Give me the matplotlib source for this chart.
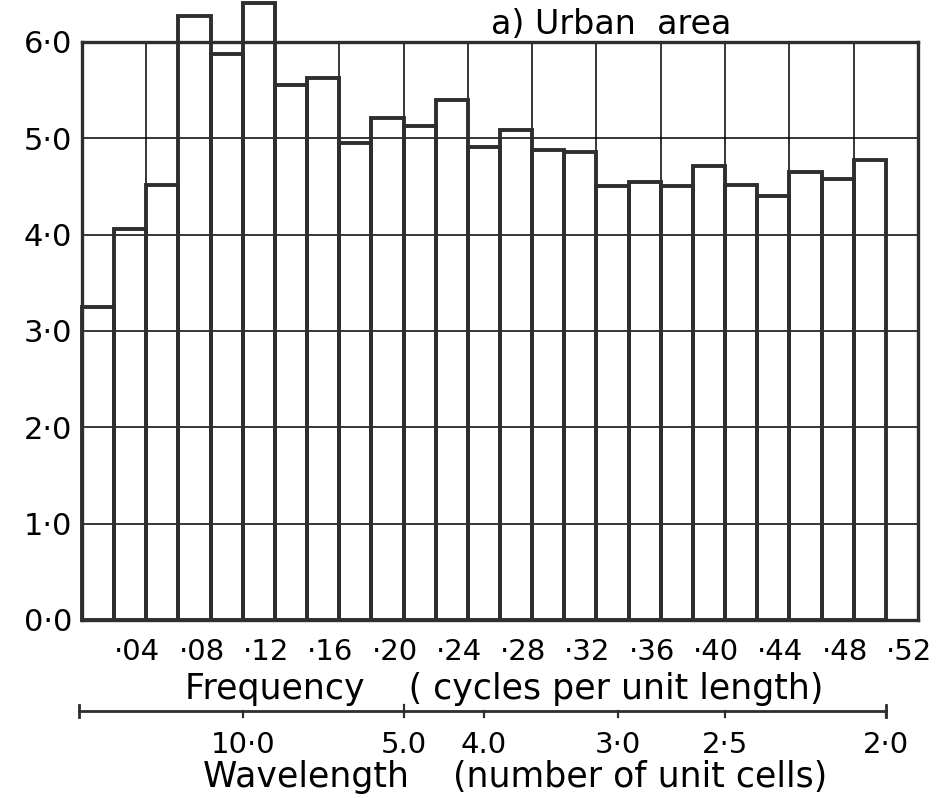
import matplotlib

matplotlib.use("Agg")
import matplotlib.pyplot as plt  # noqa: E402
from matplotlib.transforms import ScaledTranslation, blended_transform_factory  # noqa: E402

# power in each frequency band (band width 0.02 cycles per unit length)
band_start = [0.00, 0.02, 0.04, 0.06, 0.08, 0.10, 0.12, 0.14, 0.16, 0.18,
              0.20, 0.22, 0.24, 0.26, 0.28, 0.30, 0.32, 0.34, 0.36, 0.38,
              0.40, 0.42, 0.44, 0.46, 0.48]
band_power = [3.25, 4.06, 4.52, 6.27, 5.88, 6.40, 5.55, 5.63, 4.95, 5.21,
              5.13, 5.40, 4.91, 5.09, 4.88, 4.86, 4.50, 4.55, 4.51, 4.71,
              4.52, 4.40, 4.65, 4.58, 4.77]
band_width = 0.02

freq_ticks = [0.04, 0.08, 0.12, 0.16, 0.20, 0.24, 0.28, 0.32, 0.36, 0.40,
              0.44, 0.48, 0.52]
freq_labels = ["·04", "·08", "·12", "·16", "·20", "·24", "·28", "·32", "·36",
               "·40", "·44", "·48", "·52"]
power_ticks = [0, 1, 2, 3, 4, 5, 6]
power_labels = ["0·0", "1·0", "2·0", "3·0", "4·0", "5·0", "6·0"]

wavelengths = [10.0, 5.0, 4.0, 3.0, 2.5, 2.0]
wavelength_labels = ["10·0", "5.0", "4.0", "3·0", "2·5", "2·0"]

ink = "#2e2e2e"
plt.rcParams["font.family"] = ["DejaVu Sans"]

fig = plt.figure(figsize=(9.38, 7.98), dpi=100)
ax = fig.add_axes([0.0874, 0.2231, 0.8913, 0.7243])
ax.set_xlim(0, 0.52)
ax.set_ylim(0, 6)

# thin grid: one cell per 0.04 in frequency and 1.0 in power
for f in freq_ticks[:-1]:
    ax.axvline(f, color="black", lw=1.1, zorder=1)
for p in power_ticks[1:-1]:
    ax.axhline(p, color="black", lw=1.1, zorder=1)

ax.bar(band_start, band_power, width=band_width, align="edge", fill=False,
       edgecolor=ink, linewidth=2.8, clip_on=False, zorder=3)

for side in ax.spines.values():
    side.set_linewidth(2.4)
    side.set_color(ink)
    side.set_zorder(4)

ax.set_xticks(freq_ticks, freq_labels)
ax.set_yticks(power_ticks, power_labels)
ax.tick_params(axis="both", length=0)
ax.tick_params(axis="x", pad=13, labelsize=21)
ax.tick_params(axis="y", pad=7, labelsize=22)
shift = ScaledTranslation(-0.09, 0, fig.dpi_scale_trans)
for lab in ax.get_xticklabels():
    lab.set_transform(lab.get_transform() + shift)

fig.text(491 / 938, 1 - 24 / 798, "a) Urban  area", fontsize=24,
         ha="left", va="center")
fig.text(185 / 938, 1 - 689 / 798, "Frequency    ( cycles per unit length)",
         fontsize=25, ha="left", va="center")

# wavelength scale drawn under the frequency axis (wavelength = 1 / frequency)
trans = blended_transform_factory(ax.transData, fig.transFigure)
y_axis = 1 - 711 / 798
tick = 6 / 798
ax.plot([-0.002, 0.50], [y_axis, y_axis], color=ink, lw=2.0,
        transform=trans, clip_on=False)
for f in (-0.002, 0.50):
    ax.plot([f, f], [y_axis - tick, y_axis + tick], color=ink, lw=2.0,
            transform=trans, clip_on=False)
for w, lab in zip(wavelengths, wavelength_labels):
    f = 1 / w
    top = y_axis + tick if w == 5.0 else y_axis
    ax.plot([f, f], [y_axis - tick, top], color=ink, lw=1.6,
            transform=trans, clip_on=False)
    ax.text(f, 1 - 745 / 798, lab, fontsize=21, ha="center", va="center",
            transform=trans)
fig.text(203 / 938, 1 - 777 / 798, "Wavelength    (number of unit cells)",
         fontsize=25, ha="left", va="center")

fig.savefig("out.png", dpi=100, facecolor="white")
